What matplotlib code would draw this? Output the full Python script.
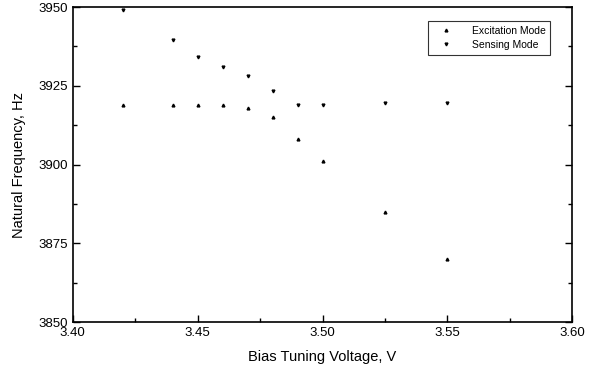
import matplotlib
matplotlib.use("Agg")
import matplotlib.pyplot as plt
from matplotlib.ticker import MultipleLocator, FormatStrFormatter

plt.rcParams["font.family"] = ["Liberation Sans", "DejaVu Sans"]

# Bias tuning voltage (V)
voltage = [3.42, 3.44, 3.45, 3.46, 3.47, 3.48, 3.49, 3.50, 3.525, 3.55]
# Natural frequency (Hz)
excitation_hz = [3919, 3919, 3919, 3919, 3918, 3915, 3908, 3901, 3885, 3870]
sensing_hz = [3949, 3939.5, 3934, 3931, 3928, 3923.5, 3919, 3919, 3919.5, 3919.5]

fig = plt.figure(figsize=(6.12, 3.69), dpi=100)
ax = fig.add_axes([0.119, 0.127, 0.816, 0.854])

ax.plot(voltage, excitation_hz, linestyle="none", marker="^", markersize=2,
        color="black", label="Excitation Mode")
ax.plot(voltage, sensing_hz, linestyle="none", marker="v", markersize=2,
        color="black", label="Sensing Mode")

ax.set_xlim(3.40, 3.60)
ax.set_ylim(3850, 3950)
ax.xaxis.set_major_locator(MultipleLocator(0.05))
ax.xaxis.set_minor_locator(MultipleLocator(0.025))
ax.yaxis.set_major_locator(MultipleLocator(25))
ax.yaxis.set_minor_locator(MultipleLocator(12.5))
ax.xaxis.set_major_formatter(FormatStrFormatter("%.2f"))
ax.tick_params(which="both", direction="in", right=True, labelsize=9.5)
ax.tick_params(which="major", length=5, width=1)
ax.tick_params(which="minor", length=3, width=1)
for s in ax.spines.values():
    s.set_linewidth(1.2)

ax.set_xlabel("Bias Tuning Voltage, V", fontsize=10.5, labelpad=8)
ax.set_ylabel("Natural Frequency, Hz", fontsize=10.5, labelpad=9)

leg = ax.legend(loc="upper right", bbox_to_anchor=(0.956, 0.955), borderaxespad=0,
                fontsize=7.5, frameon=True, fancybox=False, edgecolor="black",
                handlelength=2.5, handletextpad=1.2, borderpad=0.45,
                labelspacing=0.4)
leg.get_frame().set_linewidth(0.8)

fig.savefig("out.png", dpi=100)
